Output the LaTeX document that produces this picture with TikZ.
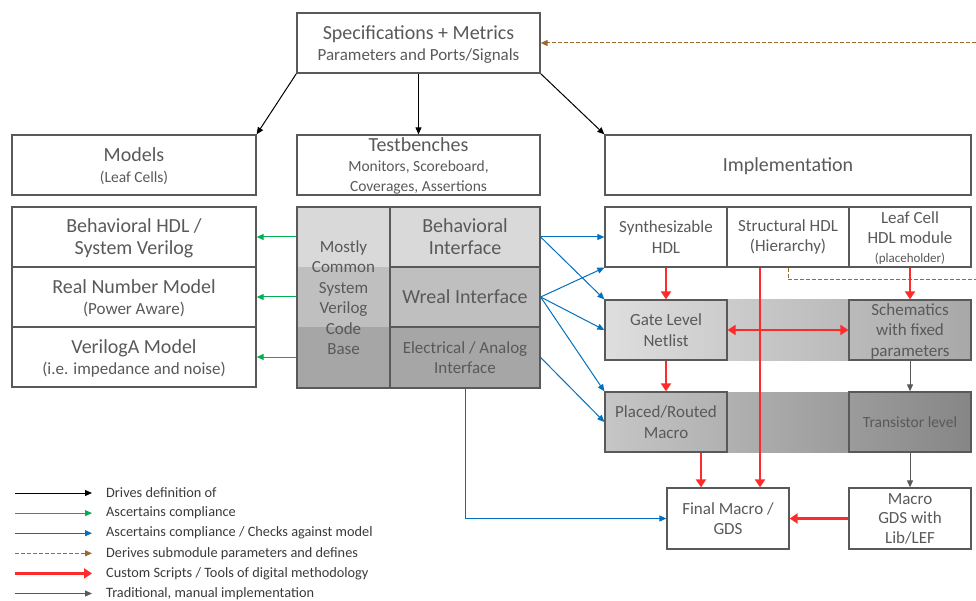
\documentclass[tikz,border=0pt]{standalone}
\usepackage{fontspec}
\setmainfont{Carlito}
\usetikzlibrary{arrows.meta}

\definecolor{txtgray}{HTML}{595959}
\definecolor{legtxt}{HTML}{3A3A3A}
\definecolor{linegray}{HTML}{595959}
\definecolor{okgreen}{HTML}{00B050}
\definecolor{chkblue}{HTML}{0070C0}
\definecolor{derbrown}{HTML}{9C6A2C}
\definecolor{scrred}{HTML}{FF2A2A}
\definecolor{mangray}{HTML}{595959}
\definecolor{tierA}{HTML}{D9D9D9}
\definecolor{tierB}{HTML}{BFBFBF}
\definecolor{tierC}{HTML}{A6A6A6}

\newcommand{\titlesize}{\fontsize{20}{22}\selectfont}
\newcommand{\subsize}{\fontsize{17}{20.5}\selectfont}
\newcommand{\notesize}{\fontsize{15.5}{20}\selectfont}
\newcommand{\tinysize}{\fontsize{13}{19}\selectfont}
\newcommand{\legsize}{\fontsize{14.3}{17}\selectfont}

\begin{document}
\begin{tikzpicture}[x=1pt, y=-1pt,
  box/.style={draw=linegray, line width=1.3pt, text=txtgray, align=center, inner sep=0pt, font=\subsize},
  cell/.style={box, minimum width=122pt, minimum height=60pt},
  flat/.style={text depth=0pt},
  drivearr/.style={-{Triangle[length=7pt,width=6pt]}, line width=1pt, black},
  greenarr/.style={-{Triangle[length=7pt,width=6pt]}, line width=1pt, okgreen},
  bluearr/.style={-{Triangle[length=7pt,width=6pt]}, line width=1pt, chkblue},
  brownarr/.style={-{Triangle[length=7pt,width=6pt]}, line width=1pt, derbrown, dash pattern=on 4pt off 2pt},
  redarr/.style={-{Triangle[length=8pt,width=10pt]}, line width=2.6pt, scrred},
  grayarr/.style={-{Triangle[length=7pt,width=6pt]}, line width=1pt, mangray}]
\useasboundingbox (0,0) rectangle (976,601);

% shaded rows behind the implementation flow
\shade[left color={rgb,255:red,222;green,222;blue,222}, right color={rgb,255:red,168;green,168;blue,168}] (605,300) rectangle (971,360);
\shade[left color={rgb,255:red,198;green,198;blue,198}, right color={rgb,255:red,134;green,134;blue,134}] (605,392) rectangle (971,452);
% common code base bands
\fill[tierA] (297,207) rectangle (390,267);
\fill[tierB] (297,267) rectangle (390,327);
\fill[tierC] (297,327) rectangle (390,388);

\node[box, flat, minimum width=243pt, minimum height=60pt] (spec) at (418.5,43)
  {{\titlesize Specifications + Metrics}\\Parameters and Ports/Signals};
\node[box, flat, minimum width=244pt, minimum height=60pt] (models) at (134,165)
  {{\titlesize Models}\\{\notesize (Leaf Cells)}};
\node[box, text depth=-3pt, minimum width=243pt, minimum height=60pt, font=\notesize] (tb) at (418.5,165)
  {{\titlesize Testbenches}\\Monitors, Scoreboard,\\Coverages, Assertions};
\node[box, flat, minimum width=366pt, minimum height=60pt] (impl) at (788,165)
  {\titlesize Implementation};

% models
\node[box, flat, minimum width=244pt, minimum height=60pt, font=\titlesize] (behmod) at (134,237)
  {Behavioral HDL /\\System Verilog};
\node[box, flat, minimum width=244pt, minimum height=60pt] (rnm) at (134,297)
  {{\titlesize Real Number Model}\\(Power Aware)};
\node[box, flat, minimum width=244pt, minimum height=60pt] (vla) at (134,357)
  {{\titlesize VerilogA Model}\\(i.e. impedance and noise)};

% testbench interfaces
\node[box, minimum width=93pt, minimum height=181pt] (code) at (343.5,297.5)
  {Mostly\\Common\\System\\Verilog\\Code\\Base};
\node[box, fill=tierA, minimum width=150pt, minimum height=60pt, font=\titlesize] (bif) at (465,237)
  {Behavioral\\Interface};
\node[box, fill=tierB, minimum width=150pt, minimum height=60pt] (wif) at (465,297)
  {\titlesize Wreal Interface};
\node[box, fill=tierC, minimum width=150pt, minimum height=61pt] (eif) at (465,357.5)
  {Electrical / Analog\\Interface};

% implementation
\node[cell, fill=white] (synth) at (666,237) {Synthesizable\\HDL};
\node[cell, fill=white] (struct) at (788,237) {Structural HDL\\(Hierarchy)};
\node[cell, flat, fill=white] (leaf) at (910,237) {Leaf Cell\\HDL module\\[-2pt]{\tinysize (placeholder)}};
\node[cell] (gate) at (666,330) {Gate Level\\Netlist};
\node[cell, flat] (schem) at (910,330) {Schematics\\with fixed\\parameters};
\node[cell] (placed) at (666,422) {Placed/Routed\\Macro};
\node[cell] (trans) at (910,422) {\notesize Transistor level};
\node[cell, minimum height=61pt] (final) at (728,518.5) {Final Macro /\\GDS};
\node[cell, minimum height=61pt, font=\fontsize{17}{19.5}\selectfont] (gds) at (910,518.5) {Macro\\GDS with\\Lib/LEF};

\coordinate (specin) at (976,43);
\coordinate (fbout) at (976,280);

% definition
\draw[drivearr] (spec.south west) -- (models.north east);
\draw[drivearr] (spec.south) -- (tb.north);
\draw[drivearr] (spec.south east) -- (impl.north west);

% compliance
\draw[greenarr] (behmod.east -| code.west) -- (behmod.east);
\draw[greenarr] (rnm.east -| code.west) -- (rnm.east);
\draw[greenarr] (vla.east -| code.west) -- (vla.east);

% checks against model
\draw[bluearr] (bif.east) -- (synth.west);
\draw[bluearr] (bif.east) -- (gate.north west);
\draw[bluearr] (wif.east) -- (synth.south west);
\draw[bluearr] (wif.east) -- (gate.west);
\draw[bluearr] (wif.east) -- (placed.north west);
\draw[bluearr] (eif.east) -- (placed.west);
\draw[bluearr] (eif.south) |- (final.west);

% derived parameters
\draw[brownarr] (specin) -- (spec.east);
\draw[brownarr, -] (struct.south) |- (fbout);

% digital flow
\draw[redarr] (synth.south) -- (gate.north);
\draw[redarr] (gate.south) -- (placed.north);
\draw[redarr] (leaf.south) -- (schem.north);
\draw[redarr] ([xshift=35pt]placed.south) -- ([xshift=-27pt]final.north);
\draw[redarr] ([xshift=-28pt]struct.south) -- ([xshift=32pt]final.north);
\draw[redarr, {Triangle[length=8pt,width=10pt]}-{Triangle[length=8pt,width=10pt]}] (gate.east) -- (schem.west);
\draw[redarr] (gds.west) -- (final.east);

% manual flow
\draw[grayarr] (schem.south) -- (trans.north);
\draw[grayarr] (trans.south) -- (gds.north);

% legend
\foreach \sty/\txt [count=\i] in {drivearr/{Drives definition of}, greenarr/{Ascertains compliance},
    bluearr/{Ascertains compliance / Checks against model}, brownarr/{Derives submodule parameters and defines},
    redarr/{Custom Scripts / Tools of digital methodology}, grayarr/{Traditional, manual implementation}} {
  \pgfmathsetmacro{\ly}{472.9+20.1*\i}
  \coordinate (ls\i) at (15,\ly);
  \node[anchor=west, inner sep=0pt, text=legtxt, font=\legsize] (lt\i) at (106,\ly) {\txt};
  \draw[\sty] (ls\i) -- ([xshift=-14pt]lt\i.west);
}
\end{tikzpicture}
\end{document}
